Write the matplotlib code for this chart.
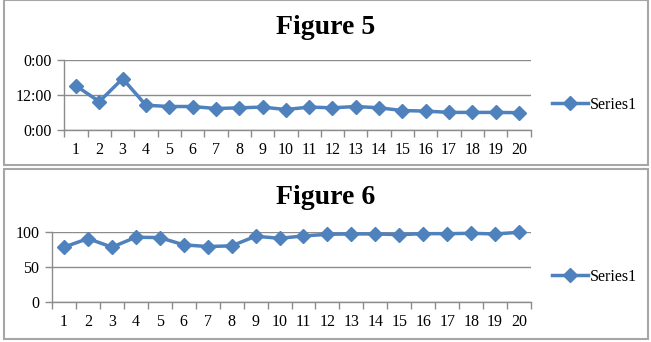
import matplotlib.pyplot as plt
from matplotlib.patches import Rectangle
from matplotlib.ticker import FixedLocator, FuncFormatter

# data
runs = list(range(1, 21))
fig5_hours = [15.2, 9.7, 17.7, 8.45, 8.0, 8.0, 7.3, 7.55, 7.8, 6.95,
              7.8, 7.55, 8.0, 7.55, 6.6, 6.4, 5.95, 5.95, 5.95, 5.85]
fig6_values = [78.3, 90.6, 78.3, 92.5, 92.0, 81.6, 79.2, 80.2, 93.9, 91.0,
               94.3, 96.7, 97.2, 97.2, 96.2, 97.6, 97.6, 98.1, 97.2, 99.5]
series_name = "Series1"

blue = "#4F81BD"
grid_grey = "#8C8C8C"

plt.rcParams["font.family"] = ["Liberation Serif", "DejaVu Serif"]
plt.rcParams["font.size"] = 11.5

fig = plt.figure(figsize=(6.51, 3.42), dpi=100)

# panel frames
for x0, y0, w, h in [(4, 0, 644, 165), (4, 169, 644, 170)]:
    fig.patches.append(Rectangle((x0 / 651, 1 - (y0 + h) / 342), w / 651, h / 342,
                                 transform=fig.transFigure, fill=False,
                                 edgecolor="#A6A6A6", linewidth=1.5))


def style_axis(ax, yticks, fmt):
    ax.set_xlim(0.5, 20.5)
    ax.set_xticks(runs)
    ax.xaxis.set_minor_locator(FixedLocator([r + 0.5 for r in range(0, 21)]))
    ax.tick_params(axis="x", which="major", length=0, pad=9, labelsize=11.5)
    ax.tick_params(axis="x", which="minor", length=5, color=grid_grey, width=1)
    ax.set_ylim(yticks[0], yticks[-1])
    ax.set_yticks(yticks)
    ax.yaxis.set_major_formatter(fmt)
    ax.tick_params(axis="y", length=5, color=grid_grey, width=1, pad=4, labelsize=11.5)
    ax.grid(axis="y", color=grid_grey, linewidth=1)
    ax.set_axisbelow(True)
    for s in ["top", "right"]:
        ax.spines[s].set_visible(False)
    for s in ["left", "bottom"]:
        ax.spines[s].set_color(grid_grey)
        ax.spines[s].set_linewidth(1)
    ax.patch.set_alpha(0)


# Figure 5
ax1 = fig.add_axes([0.0988, 0.6213, 0.7164, 0.2018])
ax1.plot(runs, fig5_hours, color=blue, linewidth=2.5, marker="D", markersize=7,
         label=series_name, clip_on=False)
style_axis(ax1, [0, 12, 24], FuncFormatter(lambda v, p: "%d:00" % (int(round(v)) % 24)))
fig.text(0.5, 1 - 27 / 342, "Figure 5", ha="center", va="center",
         fontweight="bold", fontsize=20)
fig.legend(*ax1.get_legend_handles_labels(), loc="center",
           bbox_to_anchor=(0.913, 1 - 105 / 342), frameon=False, handlelength=2.3,
           handletextpad=0.1, fontsize=11.5)

# Figure 6
ax2 = fig.add_axes([0.0799, 0.1170, 0.7358, 0.2047])
ax2.plot(runs, fig6_values, color=blue, linewidth=2.5, marker="D", markersize=7,
         label=series_name, clip_on=False)
style_axis(ax2, [0, 50, 100], FuncFormatter(lambda v, p: "%d" % v))
fig.text(0.5, 1 - 197 / 342, "Figure 6", ha="center", va="center",
         fontweight="bold", fontsize=20)
fig.legend(*ax2.get_legend_handles_labels(), loc="center",
           bbox_to_anchor=(0.913, 1 - 277 / 342), frameon=False, handlelength=2.3,
           handletextpad=0.1, fontsize=11.5)

fig.savefig("out.png", dpi=100)
